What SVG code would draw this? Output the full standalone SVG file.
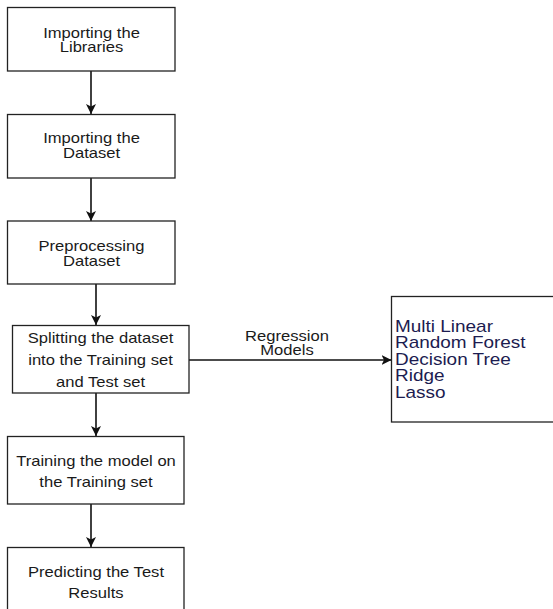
<svg xmlns="http://www.w3.org/2000/svg" width="553" height="609" viewBox="0 0 553 609">
<style>
.box{fill:#fff;stroke:#222;stroke-width:1.3}
.t{font-family:"Liberation Sans",Arial,sans-serif;font-size:14px;fill:#1a1a1a;text-anchor:middle}
.l{font-family:"Liberation Sans",Arial,sans-serif;font-size:16px;fill:#1c1c50}
.c{fill:none;stroke:#111;stroke-width:1.6}
</style>
<defs>
<marker id="ah" markerUnits="userSpaceOnUse" markerWidth="12" markerHeight="12" refX="10" refY="5.5" orient="auto">
<path d="M0,0.5 L10,5.5 L0,10.5 L2.5,5.5 Z" fill="#111"/>
</marker>
</defs>
<rect width="553" height="609" fill="#fff"/>
<g id="connectors">
<line class="c" x1="91" y1="71" x2="91" y2="114" marker-end="url(#ah)"/>
<line class="c" x1="91" y1="178" x2="91" y2="221" marker-end="url(#ah)"/>
<line class="c" x1="96" y1="284" x2="96" y2="325" marker-end="url(#ah)"/>
<line class="c" x1="96" y1="393" x2="96" y2="436" marker-end="url(#ah)"/>
<line class="c" x1="91" y1="504" x2="91" y2="547" marker-end="url(#ah)"/>
<line class="c" x1="189" y1="360" x2="391.5" y2="360" marker-end="url(#ah)"/>
<g transform="translate(287,0) scale(1.185,1)">
<text class="t" x="0" y="341">Regression</text>
<text class="t" x="0" y="355">Models</text>
</g>
</g>
<g id="n1">
<rect class="box" x="7.5" y="7.5" width="167.5" height="63.5"/>
<g transform="translate(91.5,0) scale(1.185,1)"><text class="t" x="0" y="38">Importing the</text><text class="t" x="0" y="52.5">Libraries</text></g>
</g>
<g id="n2">
<rect class="box" x="7.5" y="114.5" width="167.5" height="63.5"/>
<g transform="translate(91.5,0) scale(1.185,1)"><text class="t" x="0" y="143">Importing the</text><text class="t" x="0" y="158">Dataset</text></g>
</g>
<g id="n3">
<rect class="box" x="7.5" y="221" width="167.5" height="63"/>
<g transform="translate(91.5,0) scale(1.185,1)"><text class="t" x="0" y="251.5">Preprocessing</text><text class="t" x="0" y="266">Dataset</text></g>
</g>
<g id="n4">
<rect class="box" x="12.5" y="325.5" width="176.5" height="67.5"/>
<g transform="translate(100.5,0) scale(1.185,1)"><text class="t" x="0" y="343.5">Splitting the dataset</text><text class="t" x="0" y="365.5">into the Training set</text><text class="t" x="0" y="387">and Test set</text></g>
</g>
<g id="n5">
<rect class="box" x="7.5" y="436.5" width="176.5" height="67.5"/>
<g transform="translate(96,0) scale(1.185,1)"><text class="t" x="0" y="466">Training the model on</text><text class="t" x="0" y="487">the Training set</text></g>
</g>
<g id="n6">
<rect class="box" x="7.5" y="547.5" width="176.5" height="80"/>
<g transform="translate(96,0) scale(1.185,1)"><text class="t" x="0" y="577">Predicting the Test</text><text class="t" x="0" y="598">Results</text></g>
</g>
<g id="n7">
<rect class="box" x="391.5" y="296.5" width="180" height="125.5"/>
<g transform="translate(395,0) scale(1.185,1)">
<text class="l" x="0" y="332">Multi Linear</text>
<text class="l" x="0" y="348.5">Random Forest</text>
<text class="l" x="0" y="365">Decision Tree</text>
<text class="l" x="0" y="381.5">Ridge</text>
<text class="l" x="0" y="398">Lasso</text>
</g>
</g>
</svg>
